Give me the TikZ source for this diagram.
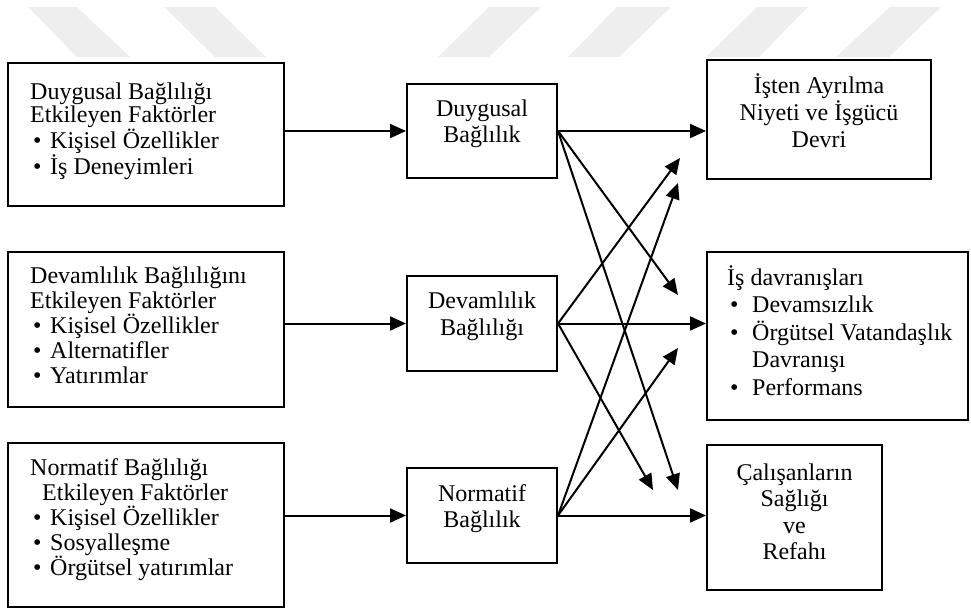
\documentclass[tikz,border=0pt]{standalone}
\usepackage{fontspec}
\setmainfont{Liberation Serif}
\usetikzlibrary{arrows.meta}
\definecolor{wm}{RGB}{238,238,238}
\newcommand\mybul{\makebox[20pt][l]{\hspace*{3pt}\textbullet}}
\newcommand\mybulr{\makebox[25pt][l]{\hspace*{3pt}\textbullet}}
\newcommand\mystrut{\rule{0pt}{22pt}}
\begin{document}
\begin{tikzpicture}[x=1pt,y=-1pt,
  box/.style={draw,line width=2pt,inner sep=0pt},
  txt/.style={inner sep=0pt,anchor=north west,align=left,font=\fontsize{24}{#1}\selectfont},
  ctxt/.style={inner sep=0pt,anchor=north,align=center,font=\fontsize{24}{#1}\selectfont},
  arr/.style={line width=2pt,-{Triangle[length=16pt,width=14pt]}},
  wmark/.style={fill=wm,draw=none}]
\useasboundingbox (0,0) rectangle (971,612);
% watermark
\fill[wmark] (28,7) -- (77,7) -- (130,57) -- (77,57) -- cycle;
\fill[wmark] (164,7) -- (215,7) -- (266,57) -- (215,57) -- cycle;
\fill[wmark] (489,7) -- (541,7) -- (489,57) -- (438,57) -- cycle;
\fill[wmark] (617,7) -- (671,7) -- (619,57) -- (568,57) -- cycle;
\fill[wmark] (757,7) -- (808,7) -- (759,57) -- (706,57) -- cycle;
\fill[wmark] (890,7) -- (941,7) -- (889,57) -- (836,57) -- cycle;
% boxes
\node[box,minimum width=276pt,minimum height=143pt] (L1) at (146,134.5) {};
\node[box,minimum width=276pt,minimum height=155pt] (L2) at (146,329.5) {};
\node[box,minimum width=276pt,minimum height=164pt] (L3) at (146,525) {};
\node[box,minimum width=150pt,minimum height=94pt] (M1) at (482,131) {};
\node[box,minimum width=150pt,minimum height=95pt] (M2) at (482,323.5) {};
\node[box,minimum width=150pt,minimum height=95pt] (M3) at (482,515.5) {};
\node[box,minimum width=224pt,minimum height=119pt] (R1) at (819,119.5) {};
\node[box,minimum width=261pt,minimum height=168pt] (R2) at (837.5,336) {};
\node[box,minimum width=175pt,minimum height=145pt] (R3) at (794.5,517.5) {};
% texts
\node[txt=23.7] (tL1) at (30,77) {\mystrut Duygusal Bağlılığı\\Etkileyen Faktörler\\\mybul Kişisel Özellikler\\\mybul İş Deneyimleri};
\node[txt=25] (tL2) at (30,261) {\mystrut Devamlılık Bağlılığını\\Etkileyen Faktörler\\\mybul Kişisel Özellikler\\\mybul Alternatifler\\\mybul Yatırımlar};
\node[txt=25] (tL3) at (30,453) {\mystrut Normatif Bağlılığı\\\hspace*{12pt}Etkileyen Faktörler\\\mybul Kişisel Özellikler\\\mybul Sosyalleşme\\\mybul Örgütsel yatırımlar};
\node[ctxt=26] (tM1) at (482,94) {\mystrut Duygusal\\Bağlılık};
\node[ctxt=27] (tM2) at (482,286) {\mystrut Devamlılık\\Bağlılığı};
\node[ctxt=26] (tM3) at (482,479) {\mystrut Normatif\\Bağlılık};
\node[ctxt=27] (tR1) at (819,71) {\mystrut İşten Ayrılma\\Niyeti ve İşgücü\\Devri};
\node[txt=27.5] (tR2) at (727,263) {\mystrut İş davranışları\\\mybulr Devamsızlık\\\mybulr Örgütsel Vatandaşlık\\\hspace*{25pt}Davranışı\\\mybulr Performans};
\node[ctxt=26.5] (tR3) at (794.5,458) {\mystrut Çalışanların\\Sağlığı\\ve\\Refahı};
% free arrow ends
\coordinate (c1) at (678,295);
\coordinate (c2) at (678,490);
\coordinate (c3) at (680,158);
\coordinate (c4) at (653,490);
\coordinate (c5) at (678,183);
\coordinate (c6) at (678,348);
% arrows left -> middle
\draw[arr] (L1.east |- M1.west) -- (M1.west);
\draw[arr] (L2.east |- M2.west) -- (M2.west);
\draw[arr] (L3.east |- M3.west) -- (M3.west);
% arrows middle -> right
\draw[arr] (M1.east) -- (M1.east -| R1.west);
\draw[arr] (M2.east) -- (M2.east -| R2.west);
\draw[arr] (M3.east) -- (M3.east -| R3.west);
% crossing arrows
\draw[arr] (M1.east) -- (c1);
\draw[arr] (M1.east) -- (c2);
\draw[arr] (M2.east) -- (c3);
\draw[arr] (M2.east) -- (c4);
\draw[arr] (M3.east) -- (c5);
\draw[arr] (M3.east) -- (c6);
\end{tikzpicture}
\end{document}
